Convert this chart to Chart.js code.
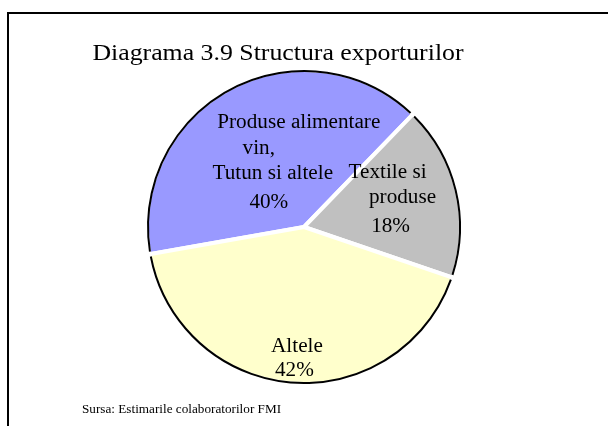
<!DOCTYPE html>
<html>
<head>
<meta charset="utf-8">
<script src="https://cdn.jsdelivr.net/npm/chart.js@4"></script>
<style>
  html, body { margin: 0; padding: 0; background: #fff; }
  #wrap { position: relative; width: 608px; height: 426px; overflow: hidden; }
  #frame { position: absolute; left: 7px; top: 12px; width: 700px; height: 500px; border-top: 2px solid #000; border-left: 2px solid #000; }
  #title { position: absolute; left: 0; width: 556px; top: 39px; text-align: center; font-family: "Liberation Serif", serif; font-size: 24px; transform: scaleX(1.075); transform-origin: 278px 0; color: #000; white-space: nowrap; }
  #note { position: absolute; left: 82px; top: 402px; font-family: "Liberation Serif", serif; font-size: 12px; transform: scaleX(1.1); transform-origin: 0 0; color: #000; white-space: nowrap; }
  canvas { position: absolute; left: 0; top: 0; }
</style>
</head>
<body>
<div id="wrap">
  <div id="frame"></div>
  <canvas id="c" width="608" height="426"></canvas>
  <div id="title">Diagrama 3.9 Structura exporturilor</div>
  <div id="note">Sursa: Estimarile colaboratorilor FMI</div>
</div>
<script>
const categories = ["Produse alimentare vin, Tutun si altele", "Textile si produse", "Altele"];
const values = [40, 18, 42];
const labelLines = [
  ["Produse alimentare", "vin,", "Tutun si altele", "40%"],
  ["Textile si", "produse", "18%"],
  ["Altele", "42%"]
];
const colors = ["#9999FF", "#C0C0C0", "#FFFFCC"];

// label anchor as fraction of radius along slice mid-angle, and per-line offsets (style)
const labelRadius = [0.43, 0.6, 0.81];
const lineOffsets = [
  [[26.5, -39.3], [-13.5, -13.3], [0.5, 11.7], [-3.5, 40.7]],
  [[-8, -26.5], [7, -1.5], [-5, 27.5]],
  [[2.7, -1.5], [0.2, 22.5]]
];

const outlinePlugin = {
  id: 'outline',
  afterDatasetsDraw(chart) {
    const ctx = chart.ctx;
    const meta = chart.getDatasetMeta(0);
    ctx.save();
    ctx.strokeStyle = '#000';
    ctx.lineWidth = 2;
    meta.data.forEach(arc => {
      const p = arc.getProps(['x', 'y', 'startAngle', 'endAngle', 'outerRadius']);
      const r = p.outerRadius - 1;
      const trim = 2.5 / r;
      ctx.beginPath();
      ctx.arc(p.x, p.y, r, p.startAngle + trim, p.endAngle - trim);
      ctx.stroke();
    });
    ctx.fillStyle = '#000';
    ctx.font = '20px "Liberation Serif", serif';
    ctx.textAlign = 'center';
    ctx.textBaseline = 'alphabetic';
    meta.data.forEach((arc, i) => {
      const p = arc.getProps(['x', 'y', 'startAngle', 'endAngle', 'outerRadius']);
      const mid = (p.startAngle + p.endAngle) / 2;
      const rr = p.outerRadius * labelRadius[i];
      const cx = p.x + Math.cos(mid) * rr;
      const cy = p.y + Math.sin(mid) * rr;
      labelLines[i].forEach((t, j) => {
        const o = lineOffsets[i][j];
        ctx.save();
        ctx.translate(cx + o[0], cy + o[1]);
        ctx.scale(1.06, 1);
        ctx.fillText(t, 0, 0);
        ctx.restore();
      });
    });
    ctx.restore();
  }
};

new Chart(document.getElementById('c'), {
  type: 'pie',
  data: {
    labels: categories,
    datasets: [{
      data: values,
      backgroundColor: colors,
      borderColor: '#FFFFFF',
      borderWidth: 4,
      hoverOffset: 0
    }]
  },
  options: {
    responsive: false,
    animation: false,
    rotation: -100,
    layout: { padding: { top: 68, bottom: 40, left: 0, right: 0 } },
    plugins: {
      legend: { display: false },
      tooltip: { enabled: false },
      title: { display: false }
    },
    events: []
  },
  plugins: [outlinePlugin]
});
</script>
</body>
</html>
